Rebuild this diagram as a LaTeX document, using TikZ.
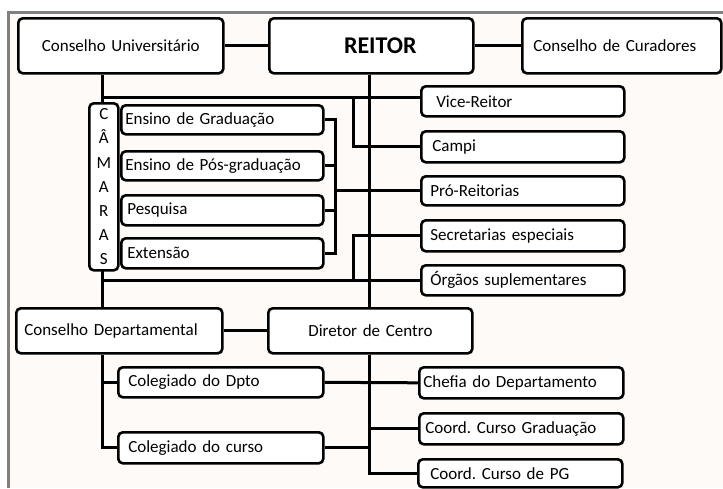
\documentclass[tikz,border=0pt]{standalone}
\usepackage{fontspec}
\setmainfont{Carlito}
\frenchspacing
\pgfdeclarelayer{bg}
\pgfdeclarelayer{lines}
\pgfsetlayers{bg,lines,main}
\definecolor{paper}{RGB}{253,250,247}
\definecolor{framegray}{RGB}{128,128,128}
\tikzset{
  bx/.style={draw=black, fill=white, line width=2.6pt, rounded corners=4.5pt,
    inner sep=0pt, align=left, font=\fontsize{17}{20}\selectfont},
  cn/.style={draw=black, line width=3pt, line join=miter}
}
% \mybox[options]{name}{x1}{y1}{x2}{y2}{left pad}{text}
\newcommand\mybox[8][]{%
  \pgfmathsetmacro\bh{#6-#4}%
  \pgfmathsetmacro\tw{#5-#3}%
  \node[bx, anchor=north west, minimum height=\bh pt,
        text width=\tw pt, #1] (#2) at (#3,#4) {\hspace*{#7pt}#8};}
\begin{document}
\begin{tikzpicture}[x=1pt,y=-1pt]
\useasboundingbox (0,0) rectangle (723,488);
\begin{pgfonlayer}{bg}
  \fill[paper] (8.5,12.5) rectangle (723,488);
  \draw[framegray, line width=3pt] (8.5,488) -- (8.5,12.5) -- (723,12.5);
\end{pgfonlayer}

% top row
\mybox[align=center]{CU}{17}{17}{222}{72}{0}{Conselho Universitário}
\mybox[align=center, font=\fontsize{24}{26}\selectfont\bfseries]{RE}{268}{17}{472}{72}{18}{REITOR}
\mybox{CC}{521}{17}{720}{72}{11}{Conselho de Curadores}

% camaras
\mybox[align=center, font=\fontsize{17}{24.2}\selectfont]{CAM}{88}{102}{117}{269}{0}{C\\Â\\M\\A\\R\\A\\S}
\mybox{EG}{120}{104}{322}{133}{4}{Ensino de Graduação}
\mybox{EP}{120}{150}{322}{179}{4}{Ensino de Pós-graduação}
\mybox{PQ}{120}{194}{322}{224}{6}{Pesquisa}
\mybox{EX}{120}{237}{322}{267}{6}{Extensão}

% right column
\mybox{VR}{420}{85}{623}{115}{15}{Vice-Reitor}
\mybox{CA}{420}{130}{623}{161}{11}{Campi}
\mybox{PR}{420}{175}{623}{204}{9}{Pró-Reitorias}
\mybox{SE}{420}{219}{623}{250}{9}{Secretarias especiais}
\mybox{OS}{420}{264}{623}{294}{9}{Órgãos suplementares}

% lower part
\mybox{CD}{15}{307}{221}{352}{8}{Conselho Departamental}
\mybox{DC}{267}{307}{471}{352}{40}{Diretor de Centro}
\mybox{CDp}{117}{366}{322}{396}{10}{Colegiado do Dpto}
\mybox{CCu}{117}{431}{322}{462}{10}{Colegiado do curso}
\mybox{CH}{418}{366}{622}{397}{4}{Chefia do Departamento}
\mybox{CG}{418}{412}{622}{443}{6}{Coord. Curso Graduação}
\mybox{PG}{417}{458}{621}{486}{12}{Coord. Curso de PG}

\coordinate (Lx) at (102,0);
\coordinate (Rx) at (369,0);
\coordinate (Cx) at (353,0);
\coordinate (Bx) at (335,0);
\coordinate (hvr) at (102,97);

\begin{pgfonlayer}{lines}
  \draw[cn] (CU) -- (RE);
  \draw[cn] (RE) -- (CC);
  \draw[cn] (CU.south -| Lx) -- (CD.north -| Lx);
  \draw[cn] (RE.south -| Rx) -- (DC.north -| Rx);
  \draw[cn] (hvr) -- (hvr -| VR.west);
  \draw[cn] (hvr -| Cx) |- (CA.west);
  \draw[cn] (EG.east) -- (EG.east -| Bx) -- (EX.east -| Bx) -- (EX.east);
  \draw[cn] (EP.east) -- (EP.east -| Bx);
  \draw[cn] (PQ.east) -- (PQ.east -| Bx);
  \draw[cn] (PR.west -| Bx) -- (PR.west);
  \draw[cn] (SE.west) -| (OS.west -| Cx);
  \draw[cn] (OS.west -| Lx) -- (OS.west);
  \draw[cn] (CD) -- (DC);
  \draw[cn] (CD.south -| Lx) |- (CCu.west);
  \draw[cn] (CDp.west -| Lx) -- (CDp.west);
  \draw[cn] (CDp.east) -- (CH.west);
  \draw[cn] (CCu.east) -- (CCu.east -| Rx);
  \draw[cn] (DC.south -| Rx) |- (PG.west);
  \draw[cn] (CG.west -| Rx) -- (CG.west);
\end{pgfonlayer}
\end{tikzpicture}
\end{document}
